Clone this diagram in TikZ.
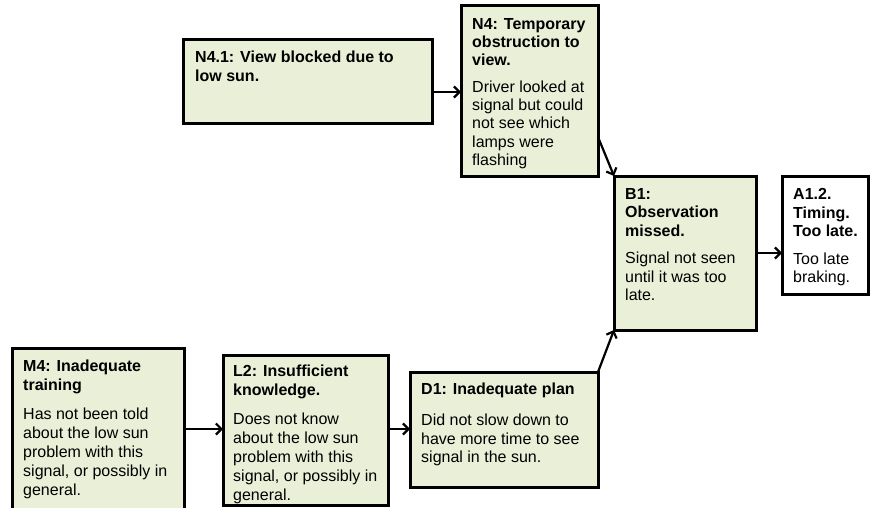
\documentclass[tikz,border=0pt]{standalone}
\usepackage{fontspec}
\setmainfont{Liberation Sans}
\usetikzlibrary{arrows.meta}
\definecolor{boxfill}{HTML}{EAF0D8}
\newcommand\hd[1]{\textbf{#1}}
\begin{document}
\begin{tikzpicture}[x=1pt,y=-1pt,
  box/.style={draw=black, line width=3pt, fill=boxfill, anchor=north west, inner sep=0pt, outer sep=0pt},
  wbox/.style={box, fill=white},
  txt/.style={anchor=north west, align=left, inner sep=0pt, font=\fontsize{16}{#1}\selectfont},
  txt/.default=18.5,
  arr/.style={line width=2.2pt, -{Straight Barb[length=5.5pt,width=11pt,line width=2.2pt]}}]
\useasboundingbox (0,0) rectangle (870,508);
\clip (0,0) rectangle (870,508);
% boxes
\node[box, minimum width=249pt, minimum height=84pt] (n41) at (183,40) {};
\node[box, minimum width=137pt, minimum height=170pt] (n4) at (461,6) {};
\node[box, minimum width=142pt, minimum height=154pt] (b1) at (614,176) {};
\node[wbox, minimum width=86pt, minimum height=118pt] (a12) at (782,176) {};
\node[box, minimum width=172pt, minimum height=180pt] (m4) at (12,348) {};
\node[box, minimum width=165pt, minimum height=150pt] (l2) at (223,355) {};
\node[box, minimum width=188pt, minimum height=115pt] (d1) at (410,372) {};
% texts
\node[txt=19] (t41) at ([shift={(12,11)}]n41.north west) {\hd{N4.1: View blocked due to}\\\hd{low sun.}};
\node[txt=18.3] (t4) at ([shift={(11,12)}]n4.north west) {\hd{N4: Temporary}\\\hd{obstruction to}\\\hd{view.}\\[8pt]Driver looked at\\signal but could\\not see which\\lamps were\\flashing};
\node[txt=18.5] (tb1) at ([shift={(11,12)}]b1.north west) {\hd{B1:}\\\hd{Observation}\\\hd{missed.}\\[8.8pt]Signal not seen\\until it was too\\late.};
\node[txt=18.7] (ta12) at ([shift={(11,12)}]a12.north west) {\hd{A1.2.}\\\hd{Timing.}\\\hd{Too late.}\\[8.6pt]Too late\\braking.};
\node[txt=19] (tm4) at ([shift={(11,11.5)}]m4.north west) {\hd{M4: Inadequate}\\\hd{training}\\[10.3pt]Has not been told\\about the low sun\\problem with this\\signal, or possibly in\\general.};
\node[txt=19] (tl2) at ([shift={(10,9.5)}]l2.north west) {\hd{L2: Insufficient}\\\hd{knowledge.}\\[10pt]Does not know\\about the low sun\\problem with this\\signal, or possibly in\\general.};
\node[txt=18.7] (td1) at ([shift={(11,10.5)}]d1.north west) {\hd{D1: Inadequate plan}\\[12.6pt]Did not slow down to\\have more time to see\\signal in the sun.};
% connectors
\draw[arr] (n41.east |- 0,92) -- (n4.west |- 0,92);
\draw[arr] (n4.east |- 0,137) -- (b1.north west);
\draw[arr] (b1.east |- 0,253) -- (a12.west |- 0,253);
\draw[arr] (m4.east |- 0,429) -- (l2.west |- 0,429);
\draw[arr] (l2.east |- 0,429) -- (d1.west |- 0,429);
\draw[arr] (d1.north east) -- (b1.south west);
\end{tikzpicture}
\end{document}
